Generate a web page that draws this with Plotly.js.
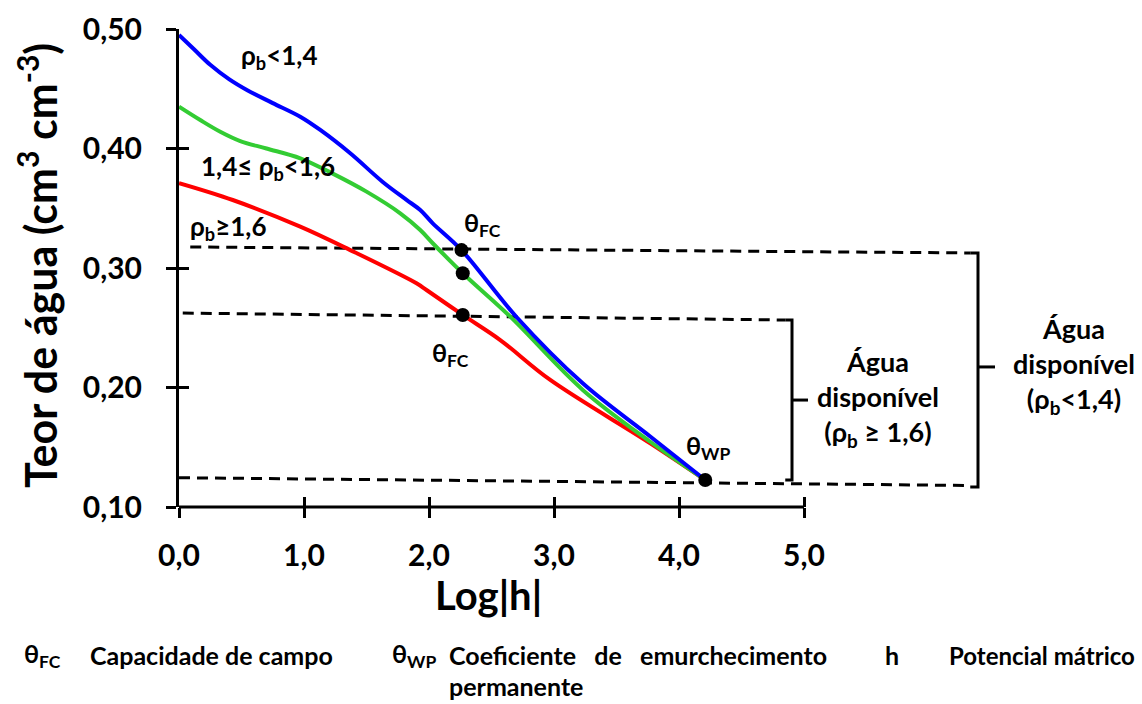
<!DOCTYPE html>
<html>
<head>
<meta charset="utf-8">
<script src="https://cdn.plot.ly/plotly-3.0.1.min.js"></script>
<style>html,body{margin:0;padding:0;background:#fff;}#chart{width:1142px;height:704px;}</style>
</head>
<body>
<div id="chart"></div>
<script>
// ---- data ----
const blueX  = [0, 0.12, 0.25, 0.40, 0.55, 0.75, 0.97, 1.13, 1.37, 1.63, 1.82, 1.93, 2.03, 2.26, 2.70, 3.23, 3.77, 4.21];
const blueY  = [0.495, 0.483, 0.470, 0.458, 0.4485, 0.438, 0.4266, 0.4155, 0.396, 0.372, 0.357, 0.3485, 0.3374, 0.315, 0.259, 0.2035, 0.159, 0.1226];
const greenX = [0, 0.17, 0.33, 0.49, 0.70, 0.97, 1.23, 1.50, 1.77, 1.93, 2.03, 2.27, 2.65, 3.23, 3.77, 4.21];
const greenY = [0.435, 0.4238, 0.414, 0.4062, 0.400, 0.3918, 0.379, 0.3639, 0.3458, 0.3318, 0.3207, 0.2956, 0.2593, 0.198, 0.1546, 0.1226];
const redX   = [0, 0.43, 0.97, 1.37, 1.90, 1.98, 2.27, 2.57, 2.97, 3.77, 4.21];
const redY   = [0.371, 0.3569, 0.3346, 0.315, 0.2872, 0.2816, 0.2607, 0.2397, 0.2063, 0.1533, 0.1226];

const pointX = [2.26, 2.27, 2.27, 4.21];            // θFC (3 curves) and θWP
const pointY = [0.315, 0.2956, 0.2607, 0.1226];

const dashTopX = [0.09, 6.33], dashTopY = [0.3176, 0.3126];
const dashMidX = [0.03, 4.85], dashMidY = [0.2623, 0.2565];
const dashBotX = [0.00, 6.33], dashBotY = [0.1245, 0.1180];

const brSmallX = [4.85, 4.904, 4.904, 4.85], brSmallY = [0.2565, 0.2565, 0.1226, 0.1226];
const brSmallTickX = [4.904, 5.032], brSmallTickY = [0.1895, 0.1895];
const brBigX = [6.33, 6.392, 6.392, 6.33], brBigY = [0.3126, 0.3126, 0.1167, 0.1167];
const brBigTickX = [6.392, 6.528], brBigTickY = [0.2172, 0.2172];

const xTicks = [0, 1, 2, 3, 4, 5];
const xTickText = ['0,0', '1,0', '2,0', '3,0', '4,0', '5,0'];
const yTicks = [0.1, 0.2, 0.3, 0.4, 0.5];
const yTickText = ['0,10', '0,20', '0,30', '0,40', '0,50'];
const yRange = [0.1, 0.5];
const xRange = [0, 7.704];

const F = 'Lato, "Open Sans", sans-serif';
const lineT = (x, y, color, width, dash) => ({x, y, type:'scatter', mode:'lines', hoverinfo:'skip', showlegend:false,
  line:{color, width, dash: dash || 'solid', shape:'linear'}});
const curve = (x, y, color) => ({x, y, type:'scatter', mode:'lines', hoverinfo:'skip', showlegend:false,
  line:{color, width: 4, shape:'spline', smoothing:1}});

const DASH = '11px,7px';
const traces = [
  lineT(dashTopX, dashTopY, '#000', 3, DASH),
  lineT(dashMidX, dashMidY, '#000', 3, DASH),
  lineT(dashBotX, dashBotY, '#000', 3, DASH),
  lineT(brSmallX, brSmallY, '#000', 3),
  lineT(brSmallTickX, brSmallTickY, '#000', 3),
  lineT(brBigX, brBigY, '#000', 3),
  lineT(brBigTickX, brBigTickY, '#000', 3),
  curve(redX, redY, '#ff0000'),
  curve(greenX, greenY, '#33cc33'),
  curve(blueX, blueY, '#0000ff'),
  {x: pointX, y: pointY, type:'scatter', mode:'markers', hoverinfo:'skip', showlegend:false,
   marker:{color:'#000', size:14}},
  {x:[xTicks[0]], y:[yRange[0]], xaxis:'x2', yaxis:'y2', type:'scatter', mode:'markers',
   marker:{opacity:0}, hoverinfo:'skip', showlegend:false}
];

const tf = {family:F, size:30, color:'#000', weight:'bold'};
const base = {showgrid:false, zeroline:false, tickcolor:'#000', tickwidth:3, ticklen:10};

const ann = (text, x, y, size, extra) => Object.assign({text, x, y, xref:'x', yref:'y', showarrow:false,
  font:{family:F, size, color:'#000', weight:'bold'}, xanchor:'center', yanchor:'middle'}, extra || {});
const foot = (text, px, py, size) => ({text, x:(px-179)/963, y:(507-py)/478, xref:'paper', yref:'paper', showarrow:false,
  xanchor:'left', yanchor:'middle', font:{family:F, size: size || 25, color:'#000', weight:'bold'}});

const layout = {
  width:1142, height:704,
  margin:{l:179, r:0, t:29, b:197},
  paper_bgcolor:'#fff', plot_bgcolor:'#fff',
  xaxis: Object.assign({}, base, {range:xRange, tickmode:'array', tickvals:xTicks, ticktext:xTickText,
    ticks:'outside', showline:false, tickfont:tf, ticklabelstandoff:12}),
  yaxis: Object.assign({}, base, {range:yRange, tickmode:'array', tickvals:yTicks, ticktext:yTickText,
    ticks:'outside', showline:true, linecolor:'#000', linewidth:3, tickfont:tf, ticklabelstandoff:18}),
  xaxis2: Object.assign({}, base, {range:xRange, overlaying:'x', anchor:'y2', side:'bottom', tickmode:'array',
    tickvals:xTicks, ticks:'inside', showticklabels:false, showline:false}),
  yaxis2: Object.assign({}, base, {range:yRange, overlaying:'y', anchor:'x2', side:'left', tickmode:'array',
    tickvals:yTicks, ticks:'inside', showticklabels:false, showline:false}),
  shapes:[{type:'line', xref:'x', yref:'paper', x0:xTicks[0], x1:xTicks[xTicks.length-1], y0:0, y1:0,
    line:{color:'#000', width:3}}],
  annotations:[
    ann('ρ<sub>b</sub><1,4', 0.80, 0.4766, 26),
    ann('1,4≤ ρ<sub>b</sub><1,6', 0.708, 0.3845, 26),
    ann('ρ<sub>b</sub>≥1,6', 0.392, 0.3343, 26),
    ann('θ<sub>FC</sub>', 2.43, 0.337, 25),
    ann('θ<sub>FC</sub>', 2.17, 0.228, 25),
    ann('θ<sub>WP</sub>', 4.235, 0.150, 25),
    ann('Água<br>disponível<br>(ρ<sub>b</sub> ≥ 1,6)', 5.592, 0.1904, 27),
    ann('Água<br>disponível<br>(ρ<sub>b</sub><1,4)', 7.16, 0.218, 27),
    {text:'Log|h|', x:(488-179)/963, y:(507-595)/478, xref:'paper', yref:'paper', showarrow:false,
     xanchor:'center', yanchor:'middle', font:{family:F, size:40, color:'#000', weight:'bold'}},
    {text:'Teor de água (cm<sup>3</sup> cm<sup>-3</sup>)', x:(37-179)/963, y:(507-266)/478, xref:'paper', yref:'paper',
     showarrow:false, textangle:-90, xanchor:'center', yanchor:'middle',
     font:{family:F, size:43, color:'#000', weight:'bold'}},
    foot('θ<sub>FC</sub>', 22, 655),
    foot('Capacidade de campo', 88, 655),
    foot('θ<sub>WP</sub>', 390, 655),
    foot('Coeficiente   de   emurchecimento', 447, 655),
    foot('permanente', 447, 686),
    foot('h', 883, 655),
    foot('Potencial mátrico', 947, 655, 24)
  ]
};

Plotly.newPlot('chart', traces, layout, {staticPlot:true, displayModeBar:false});
</script>
</body>
</html>
